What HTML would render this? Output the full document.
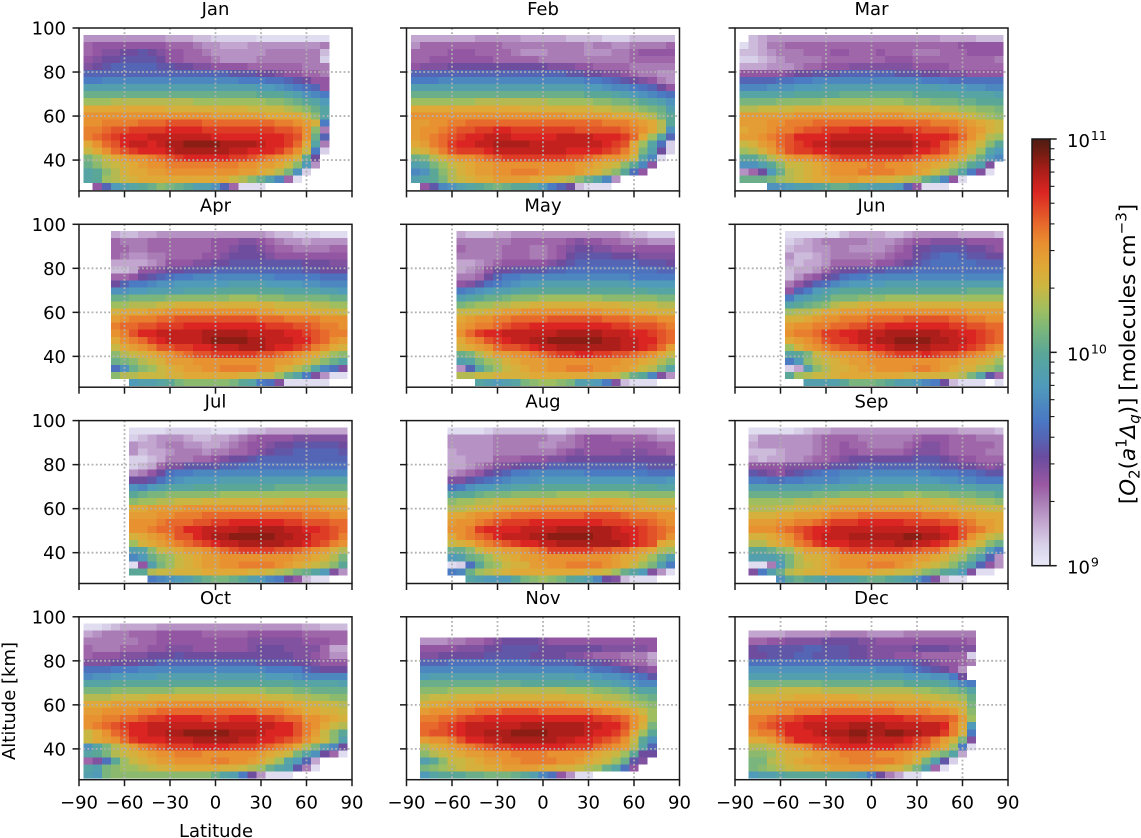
<!DOCTYPE html>
<html lang="en">
<head>
<meta charset="utf-8">
<title>Monthly O2 singlet delta density by latitude and altitude</title>
<style>
html,body{margin:0;padding:0;background:#fff;}
svg{display:block;}
text{font-family:"DejaVu Sans","Liberation Sans",sans-serif;font-size:18px;fill:#000;}
</style>
</head>
<body>
<svg id="figure" xmlns="http://www.w3.org/2000/svg" width="1141" height="838" viewBox="0 0 1141 838">
<text transform="translate(1135,354) rotate(-90)" text-anchor="middle" style="font-size:21.4px">[<tspan font-style="italic">O</tspan><tspan dy="4.5" style="font-size:15px">2</tspan><tspan dy="-4.5">(</tspan><tspan font-style="italic">a</tspan><tspan dy="-8.5" style="font-size:15px">1</tspan><tspan dy="8.5" font-style="italic">Δ</tspan><tspan dy="4.5" font-style="italic" style="font-size:15px">g</tspan><tspan dy="-4.5">)] [molecules cm</tspan><tspan dy="-8.5" style="font-size:15px">−3</tspan><tspan dy="8.5">]</tspan></text>
</svg>
<script>
// Latitude cell centres (degrees) and altitude cell centres (km)
const latCenters = [-84,-78,-72,-66,-60,-54,-48,-42,-36,-30,-24,-18,-12,-6,0,6,12,18,24,30,36,42,48,54,60,66,72,78,84];
const altCenters = [95.3,92.1,88.9,85.7,82.5,79.3,76.1,72.9,69.7,66.5,63.3,60.1,56.9,53.7,50.5,47.3,44.1,40.9,37.7,34.5,31.3,28.1];
const monthNames = ["Jan","Feb","Mar","Apr","May","Jun","Jul","Aug","Sep","Oct","Nov","Dec"];
const xTicks = [-90,-60,-30,0,30,60,90];
const yTicks = [40,60,80,100];
const gridLats = [-60,-30,0,30,60];
const gridAlts = [40,60,80];
const cbarMajor = [1e9,1e10,1e11];
const cbarMinor = [2e9,3e9,4e9,5e9,6e9,7e9,8e9,9e9,2e10,3e10,4e10,5e10,6e10,7e10,8e10,9e10];

// Density per cell, in steps of 0.05 decade above 1e9 molecules/cm3. Rows run top to bottom.
const janLevels = [
[5,5,5,5,5,5,5,5,5,4,4,4,3,3,2,2,2,2,2,1,1,1,1,1,1,1,1],
[7,8,8,8,8,8,8,8,8,7,7,7,6,5,5,4,4,4,5,5,5,5,5,5,5,5,6],
[7,8,9,9,10,10,11,10,9,8,8,7,7,6,5,5,5,5,5,5,6,6,6,6,6,6,3],
[8,9,10,10,11,11,11,11,10,8,8,7,7,7,6,5,5,5,5,6,6,6,6,6,6,6,2],
[9,10,11,12,12,12,12,12,11,11,10,10,9,9,8,8,8,8,7,7,7,7,7,7,6,6,6],
[12,12,12,12,12,12,12,12,12,12,12,12,12,12,12,12,11,11,11,10,10,9,8,8,7,7,6],
[14,14,15,15,15,15,15,15,15,15,15,15,15,15,15,15,15,14,14,14,13,13,12,11,10,8,8],
[18,18,18,18,18,18,18,18,18,18,18,18,18,18,18,18,18,18,18,17,17,16,15,14,13,12,8],
[21,21,21,21,21,21,21,21,21,21,21,21,21,21,21,21,21,21,21,20,20,20,19,18,16,15,14],
[24,24,24,25,25,25,25,25,25,25,25,25,24,24,24,24,24,24,24,24,23,23,22,21,20,19,17],
[28,28,28,28,28,28,28,28,28,27,27,27,27,27,27,27,27,27,26,26,26,26,25,24,23,21,19],
[30,30,30,30,30,30,30,30,30,30,30,30,30,30,29,29,29,29,29,29,28,28,28,28,26,23,19],
[30,30,31,31,31,31,32,32,32,33,33,33,33,32,32,32,32,32,32,32,32,31,31,30,29,27,14],
[31,31,32,33,33,34,34,34,34,35,35,35,35,34,34,34,34,34,34,34,34,33,33,32,30,23,6],
[31,32,33,34,35,35,35,36,36,36,36,36,36,36,35,35,35,35,35,35,35,35,34,33,30,21,12],
[28,30,32,33,35,36,36,35,36,37,37,38,38,38,38,37,37,37,37,36,35,35,34,32,28,19,6],
[26,28,30,32,33,34,35,35,35,36,37,37,37,37,37,37,36,36,35,35,35,34,32,30,26,14,2],
[22,24,26,28,29,30,30,31,32,33,34,35,35,35,35,35,34,34,33,32,31,30,29,27,20,10],
[21,23,25,26,27,28,29,30,30,31,31,31,31,31,31,31,31,30,30,29,29,28,26,23,17,5],
[19,20,23,25,27,28,28,29,29,30,30,30,30,30,30,30,30,29,29,28,27,25,22,16,2],
[19,20,24,25,26,27,28,28,28,28,28,28,28,28,28,28,26,25,23,21,18,15,7,1],
[,8,12,17,18,19,20,21,23,22,21,20,18,18,16,12,7,1,1,1]
];
const febLevels = [
[4,4,4,4,4,4,4,5,5,5,5,5,4,4,4,4,4,3,3,3,3,2,2,2,3,3,3,3,3],
[5,7,7,7,7,7,7,7,7,7,6,6,6,6,6,6,6,6,6,5,6,6,5,5,6,6,6,6,7],
[7,7,7,7,8,8,8,7,7,7,7,6,5,5,5,6,6,6,6,5,5,5,6,6,7,8,8,8,8],
[7,7,8,8,8,8,8,8,8,7,7,7,7,7,6,6,6,6,6,6,6,6,6,6,7,7,7,7,7],
[8,9,9,9,10,10,10,10,10,10,10,10,10,10,10,9,9,9,8,8,7,7,7,7,6,6,6,6,6],
[12,12,12,12,12,12,12,12,12,12,12,12,12,12,12,12,12,11,11,10,10,9,9,8,7,6,6,5,5],
[14,14,14,15,15,15,15,15,15,15,15,15,15,15,15,15,15,15,15,14,14,13,12,11,10,9,8,6,5],
[18,18,18,18,18,18,18,18,18,18,18,18,18,18,18,18,18,18,18,17,17,16,15,15,14,13,12,10,8],
[21,21,21,21,21,21,21,21,21,21,21,21,21,21,21,21,21,21,21,20,20,20,19,18,17,16,15,14,13],
[24,24,24,24,24,24,24,25,25,25,25,25,25,25,25,24,24,24,24,24,23,23,22,22,21,20,19,18,16],
[28,28,28,28,28,28,28,28,28,28,28,28,27,27,27,27,27,27,27,27,26,26,25,25,24,23,22,21,18],
[30,30,30,30,30,30,30,30,30,30,30,30,30,30,30,30,30,29,29,29,29,29,28,28,28,26,25,22,20],
[29,29,30,30,31,31,32,32,32,32,32,32,32,32,32,32,32,32,32,32,32,31,31,31,30,29,28,25,20],
[29,30,30,31,32,33,33,34,34,35,35,34,34,34,34,34,34,34,33,33,33,33,33,32,31,30,28,25,16],
[29,30,31,32,33,34,35,35,36,36,36,35,35,35,35,35,36,36,36,36,35,35,35,34,32,28,24,19,12],
[28,29,31,32,34,35,35,36,36,37,37,37,37,36,36,36,36,36,36,36,36,35,34,33,28,24,19,13,2],
[26,27,29,31,33,34,34,34,35,36,36,36,36,36,36,36,36,35,35,35,35,34,33,31,28,22,18,10,2],
[21,22,25,27,29,30,30,31,32,33,34,34,34,34,34,34,34,33,33,32,31,30,30,29,26,19,15,1],
[18,19,22,24,26,27,28,29,29,30,30,30,30,30,30,30,30,30,29,29,28,27,26,23,20,15,8],
[15,16,20,23,25,27,28,29,29,30,30,31,31,31,30,30,30,30,29,28,27,25,23,20,13,8],
[18,19,20,22,25,26,27,28,28,29,29,29,29,28,28,27,26,25,23,21,19,15,5],
[,8,11,15,16,18,19,20,21,22,21,20,20,19,17,14,12,10,3,1,1,1]
];
const marLevels = [
[,3,4,5,5,5,5,5,5,5,5,5,5,5,5,5,5,5,5,5,5,5,4,4,4,4,3,3,3],
[1,3,4,6,6,7,7,7,7,7,7,7,7,7,7,7,7,7,7,7,7,7,7,7,8,8,8,8,8],
[3,3,4,5,6,6,6,7,7,7,8,8,7,7,7,8,7,7,7,6,6,6,7,7,7,8,8,8,8],
[2,2,3,4,5,6,6,6,6,7,7,7,7,7,7,7,8,8,8,7,7,7,7,7,7,7,7,7,6],
[4,4,4,5,5,5,6,7,7,8,8,8,9,9,9,9,9,9,9,8,8,8,8,7,7,7,7,7,7],
[8,8,8,8,8,9,10,10,11,11,11,12,12,12,12,12,12,11,11,11,10,10,9,9,9,8,8,8,8],
[12,12,12,12,13,13,14,14,15,15,15,15,15,15,15,15,15,15,15,15,14,14,14,13,13,13,13,13,13],
[15,15,15,16,16,16,17,17,17,18,18,18,18,18,18,18,18,18,18,18,18,18,17,17,17,16,16,15,15],
[19,19,19,19,19,19,20,20,20,20,20,21,21,21,21,21,21,21,21,20,20,20,20,20,19,19,19,19,18],
[22,22,22,22,23,23,23,23,23,24,24,24,24,24,24,24,24,24,23,23,23,22,22,22,21,21,20,20,20],
[25,25,26,26,26,26,27,27,27,27,27,27,27,27,27,27,27,27,27,26,26,26,25,25,24,24,23,23,22],
[29,29,29,29,29,29,30,30,30,30,30,30,30,30,30,30,30,30,29,29,29,29,28,28,27,26,25,24,23],
[29,29,29,30,30,31,31,31,32,32,32,32,32,32,32,32,32,32,32,32,32,31,31,31,30,29,28,27,26],
[28,29,29,30,31,31,32,33,33,34,34,34,35,35,35,35,35,35,34,34,33,33,33,32,31,30,29,27,26],
[29,29,30,31,32,33,35,35,35,35,36,36,36,36,36,36,36,36,36,35,35,35,35,34,32,30,28,25,24],
[26,27,29,30,32,33,34,35,36,36,37,37,37,37,37,37,37,37,37,36,36,35,33,32,30,28,26,23,20],
[24,25,27,29,31,33,34,34,35,35,36,36,36,36,36,36,36,36,36,35,35,34,33,31,29,27,24,19,17],
[20,20,22,25,27,29,30,30,31,32,33,34,34,34,34,34,34,34,33,33,31,31,30,29,27,24,21,17,15],
[16,16,18,20,23,26,26,27,28,29,30,30,30,30,31,31,30,30,30,29,29,28,27,25,23,20,18,9],
[5,7,10,17,21,25,26,27,28,29,30,30,30,31,31,31,31,30,30,29,28,26,24,22,19,14,9,1],
[21,21,21,22,24,25,26,27,28,28,29,29,29,28,28,27,27,26,25,24,21,19,15,8,1],
[,,,16,16,17,18,18,19,20,21,21,20,19,18,18,18,17,12,8,1,1,1]
];
const aprLevels = [
[,,,4,3,3,4,4,5,5,5,5,5,5,5,5,5,5,5,5,4,3,3,2,2,2,1,1,1],
[,,,7,6,6,6,7,7,7,7,7,7,7,8,8,8,9,9,8,7,6,5,5,4,5,5,5,5],
[,,,7,7,6,6,7,7,7,7,7,7,7,8,8,9,10,10,9,8,7,7,6,6,6,6,7,7],
[,,,7,6,5,5,6,6,7,7,7,7,8,8,9,10,10,10,10,9,8,8,8,8,8,8,8,8],
[,,,4,4,4,4,5,6,8,8,8,9,9,10,10,11,11,11,11,11,11,11,11,10,10,10,9,9],
[,,,3,3,4,8,8,9,10,10,11,11,11,12,12,12,12,12,12,12,12,12,12,11,11,10,10,10],
[,,,7,7,8,10,11,12,13,14,14,15,15,15,15,15,15,15,15,15,14,14,14,14,14,13,13,13],
[,,,10,12,14,14,15,16,16,17,17,17,17,17,17,18,18,18,18,17,17,17,17,16,16,15,15,15],
[,,,16,16,17,17,18,18,18,18,19,19,19,20,20,20,20,20,20,20,20,19,19,19,19,18,18,17],
[,,,21,21,22,22,22,22,23,23,23,23,23,23,23,24,24,24,23,23,23,22,22,22,22,22,21,21],
[,,,24,24,25,25,25,26,26,27,27,27,27,27,27,27,27,27,27,27,26,26,26,26,25,25,24,24],
[,,,27,28,28,28,29,29,30,30,30,30,30,30,30,30,30,30,29,29,28,28,28,28,27,27,27,26],
[,,,29,30,31,31,31,32,32,33,33,33,33,33,33,33,33,33,32,32,32,31,31,31,31,30,30,30],
[,,,31,32,32,33,33,34,34,34,35,35,35,35,35,35,35,35,35,34,34,34,33,33,32,31,31,30],
[,,,30,31,33,35,35,36,36,36,36,36,37,37,37,37,37,36,36,36,36,35,35,34,33,32,31,31],
[,,,28,30,31,32,34,35,36,36,36,36,37,38,38,38,38,37,37,36,36,36,35,35,33,32,30,29],
[,,,26,28,29,30,31,33,33,34,34,35,35,36,36,36,37,37,37,36,35,35,34,33,31,30,28,27],
[,,,23,25,26,27,28,29,30,31,32,33,33,34,34,34,34,34,33,33,32,31,30,29,28,26,24,23],
[,,,21,22,23,25,26,27,29,29,29,30,30,30,30,30,30,30,30,30,29,29,28,27,25,23,21,19],
[,,,13,16,21,23,24,26,27,28,29,29,30,30,31,31,31,31,30,30,28,27,25,23,19,15,13,9],
[,,,23,25,25,26,26,26,27,27,28,28,28,28,28,28,27,27,26,26,24,21,19,14,9,5,1,1],
[,,,,,17,18,18,19,20,22,23,23,23,23,23,22,20,19,14,13,9,1,1,1,1,1]
];
const mayLevels = [
[,,,,,4,3,3,3,4,4,5,5,5,5,5,5,5,5,5,5,5,5,4,3,3,2,2,2],
[,,,,,6,6,6,6,6,6,7,7,7,7,7,7,8,9,8,8,7,7,6,6,6,5,5,5],
[,,,,,7,6,6,6,6,7,7,7,6,6,7,8,9,10,10,9,9,8,8,8,8,8,8,8],
[,,,,,6,6,6,6,6,7,7,7,6,6,7,8,10,11,11,11,11,10,10,10,9,9,9,9],
[,,,,,4,4,5,6,7,8,8,8,8,8,9,10,11,12,12,12,12,12,12,12,11,11,11,10],
[,,,,,4,5,6,8,10,10,11,11,11,11,12,12,13,13,13,13,13,13,13,13,13,13,12,12],
[,,,,,6,6,7,10,12,14,14,15,15,15,15,15,15,15,15,15,15,15,15,14,14,14,14,14],
[,,,,,8,9,11,13,14,15,16,17,17,18,18,18,18,18,18,18,18,18,18,17,17,17,17,17],
[,,,,,14,15,16,17,18,18,19,20,20,20,20,20,20,20,20,20,20,20,20,20,20,19,19,19],
[,,,,,18,19,20,21,21,22,23,23,23,24,24,24,24,24,24,24,23,23,23,23,23,23,22,22],
[,,,,,22,23,24,24,25,25,26,26,27,27,27,27,27,27,27,27,27,27,26,26,26,26,25,25],
[,,,,,26,26,26,27,28,29,29,30,30,30,30,30,30,30,30,30,29,29,29,28,28,27,27,27],
[,,,,,28,29,30,30,31,31,32,32,32,32,33,33,33,33,33,33,32,32,32,31,31,31,30,30],
[,,,,,29,30,31,31,32,33,34,34,35,35,35,35,35,35,35,35,35,34,34,33,33,33,32,31],
[,,,,,30,32,34,35,35,36,36,36,36,36,36,37,37,37,37,37,36,36,36,35,35,34,33,32],
[,,,,,28,30,31,33,34,35,36,36,37,37,38,38,38,38,38,38,37,37,36,36,35,35,33,32],
[,,,,,27,28,29,30,32,33,33,34,35,36,36,37,37,37,37,37,37,37,36,36,35,34,32,29],
[,,,,,21,22,25,27,29,29,30,30,31,32,33,34,34,35,35,34,34,33,33,32,31,30,28,26],
[,,,,,18,19,22,24,25,27,28,29,29,29,30,30,30,30,30,30,30,30,29,29,28,27,25,23],
[,,,,,5,12,19,22,24,26,27,28,29,29,30,30,31,31,31,30,30,29,29,28,26,25,22,19],
[,,,,,25,25,26,26,27,27,27,27,28,28,28,28,28,28,28,27,27,26,24,21,20,15,9,5],
[,,,,,,,19,18,17,18,19,22,23,24,24,23,22,18,18,17,14,9,3,1,1,1]
];
const junLevels = [
[,,,,,1,1,1,1,1,1,3,4,4,4,4,3,3,4,5,5,5,5,5,4,4,4,4,3],
[,,,,,2,3,4,5,6,6,6,6,6,5,5,5,6,7,8,8,9,9,9,9,8,8,8,8],
[,,,,,3,4,4,5,5,6,6,5,5,5,5,6,7,8,10,10,11,11,11,11,10,10,9,8],
[,,,,,5,3,3,4,5,6,6,6,6,6,6,7,8,8,10,11,12,13,13,12,11,11,10,10],
[,,,,,4,3,4,4,5,7,7,7,7,7,8,8,9,10,11,12,13,13,13,13,13,12,12,12],
[,,,,,3,4,4,5,7,9,10,10,11,11,11,12,12,12,13,13,13,13,13,13,13,13,13,13],
[,,,,,3,5,7,8,10,11,13,14,14,15,15,15,15,15,15,15,15,15,15,15,15,15,15,15],
[,,,,,6,8,10,12,13,15,16,17,17,17,17,18,18,18,18,18,18,18,18,18,18,18,18,18],
[,,,,,8,12,14,17,18,19,20,20,20,20,20,20,20,20,20,20,20,20,20,20,21,21,21,21],
[,,,,,14,17,18,19,20,22,22,22,23,23,23,24,24,24,24,24,24,24,24,24,24,24,24,24],
[,,,,,19,20,21,22,23,25,26,26,27,27,27,27,27,27,27,27,27,27,27,27,27,27,27,27],
[,,,,,24,25,25,26,28,28,29,29,29,30,30,30,30,30,30,30,30,30,30,30,29,29,29,29],
[,,,,,27,27,28,29,30,30,31,31,31,32,32,32,32,33,33,33,33,33,32,32,31,31,30,30],
[,,,,,29,30,30,31,31,32,32,33,33,34,34,35,35,35,35,35,35,35,34,34,33,33,32,32],
[,,,,,30,31,31,32,34,34,35,35,36,36,36,37,37,37,37,37,37,36,36,35,35,34,33,32],
[,,,,,28,29,30,31,33,34,34,35,36,36,37,37,38,38,38,38,37,37,36,36,35,34,33,32],
[,,,,,24,27,29,30,31,32,33,33,34,35,35,36,37,37,37,37,36,36,36,35,34,33,31,30],
[,,,,,19,20,22,26,28,29,29,30,30,31,32,33,34,34,34,35,34,33,33,32,31,30,29,27],
[,,,,,14,17,23,25,26,27,28,29,29,30,30,30,30,30,30,30,30,29,29,28,28,27,26,24],
[,,,,,2,4,18,23,25,27,27,28,29,29,30,30,30,30,31,31,30,29,28,27,27,25,24,22],
[,,,,,20,24,25,26,26,27,28,28,28,28,28,28,28,27,27,27,27,26,26,25,22,19,11,7],
[,,,,,,,18,18,18,18,20,22,22,22,21,20,18,18,17,15,14,10,3,1,1,1,,1]
];
const julLevels = [
[,,,,,1,1,1,1,2,2,2,2,2,1,1,1,2,3,3,4,4,4,4,4,4,4,4,4],
[,,,,,2,3,4,5,5,5,4,3,3,4,4,5,6,7,8,8,8,8,9,9,9,9,9,9],
[,,,,,5,4,4,5,6,6,5,5,4,4,5,6,7,8,8,9,10,10,11,11,11,11,11,10],
[,,,,,5,3,4,4,5,6,6,6,5,6,6,7,7,8,9,10,11,11,12,12,12,12,12,11],
[,,,,,2,2,3,4,6,6,6,7,7,8,9,10,10,11,12,12,12,12,12,12,12,12,12,12],
[,,,,,2,3,4,7,9,9,11,11,11,11,12,12,13,13,13,13,13,13,13,13,13,13,13,13],
[,,,,,5,6,8,10,13,14,14,15,15,15,15,15,15,15,15,15,15,15,15,15,15,15,15,15],
[,,,,,10,10,11,13,15,16,17,17,17,17,18,18,18,18,18,18,18,18,18,18,19,19,19,19],
[,,,,,16,15,17,18,19,19,19,20,20,20,20,20,20,20,20,20,21,21,21,21,21,21,21,21],
[,,,,,20,21,22,22,23,23,23,23,23,23,24,24,24,24,24,24,24,24,24,24,24,24,24,24],
[,,,,,23,24,24,25,25,26,26,26,27,27,27,27,27,27,27,27,27,28,28,28,28,27,27,27],
[,,,,,28,28,29,29,29,29,30,30,30,30,30,30,30,30,30,30,30,30,30,30,30,29,29,29],
[,,,,,29,29,29,30,30,31,31,31,32,32,32,32,32,32,32,32,32,32,32,31,31,31,30,30],
[,,,,,30,30,30,31,32,32,32,33,33,34,34,35,35,35,35,35,35,34,34,33,33,33,32,32],
[,,,,,30,30,31,32,32,33,35,35,36,36,36,36,37,37,37,37,37,36,36,35,35,34,33,32],
[,,,,,27,28,29,30,31,33,33,35,36,37,37,38,38,38,38,38,37,37,36,36,34,34,33,31],
[,,,,,24,27,28,29,30,31,32,33,34,35,36,36,37,37,37,37,37,36,36,35,34,33,31,30],
[,,,,,18,19,23,26,27,28,29,29,30,31,32,33,34,34,34,34,33,33,32,31,30,29,27,25],
[,,,,,15,17,21,23,24,26,27,28,29,29,30,30,30,30,30,30,30,30,29,29,28,27,25,22],
[,,,,,1,8,18,22,24,26,27,28,29,29,30,30,31,31,31,31,30,29,28,27,26,25,23,20],
[,,,,,20,20,25,26,26,27,27,27,28,28,28,28,28,27,27,26,25,24,22,21,19,17,9,5],
[,,,,,,,14,15,16,17,18,20,21,22,22,21,20,18,17,15,14,10,8,3,1,1]
];
const augLevels = [
[,,,,1,1,1,1,2,3,3,3,3,3,3,2,2,3,4,4,4,4,4,4,4,4,4,3,3],
[,,,,5,5,5,5,5,6,6,6,6,6,6,5,5,6,7,8,8,8,7,7,7,7,6,5,5],
[,,,,5,5,5,5,5,6,6,6,6,6,5,5,6,6,7,8,8,8,8,8,8,8,8,7,7],
[,,,,4,5,5,5,5,6,6,6,6,6,6,6,7,8,9,8,8,8,8,9,9,9,8,8,7],
[,,,,4,4,5,5,5,7,7,7,8,8,8,9,9,10,10,10,10,10,10,10,10,10,10,10,10],
[,,,,4,4,5,6,7,9,9,10,11,11,11,12,12,12,12,12,12,12,12,12,12,12,11,11,11],
[,,,,5,6,7,8,10,11,12,14,14,15,15,15,15,15,15,14,14,14,14,14,14,14,13,13,13],
[,,,,9,9,11,12,13,14,15,16,16,16,17,17,17,17,17,17,17,17,17,17,17,16,16,16,17],
[,,,,13,14,16,17,17,18,18,19,19,20,20,20,20,20,20,20,20,20,20,20,20,20,20,19,19],
[,,,,19,20,20,21,22,22,22,23,23,23,23,23,24,24,24,24,24,24,24,24,23,23,23,23,23],
[,,,,23,24,24,25,25,26,26,26,27,27,27,27,27,27,27,27,28,28,28,27,27,27,26,26,26],
[,,,,25,25,26,27,27,28,29,29,29,30,30,30,30,30,30,30,30,30,29,29,29,28,28,28,28],
[,,,,28,28,29,30,30,31,31,32,32,32,32,32,32,32,32,33,33,33,33,32,31,31,31,30,30],
[,,,,29,30,30,31,32,33,34,34,34,35,35,35,35,35,35,35,35,34,34,34,33,33,32,31,30],
[,,,,30,30,31,34,35,35,35,35,36,36,36,36,37,37,37,37,37,37,36,35,35,34,33,32,31],
[,,,,28,30,31,32,33,35,36,36,36,37,37,38,38,38,38,38,37,37,36,36,35,34,33,32,30],
[,,,,26,27,28,30,31,32,33,34,35,35,36,36,37,37,37,37,37,37,37,36,35,34,33,28,27],
[,,,,21,21,23,26,28,28,29,29,30,31,32,34,34,34,34,34,33,33,32,32,30,29,28,25,24],
[,,,,17,18,21,22,24,26,27,28,29,29,30,30,30,30,30,30,30,30,29,28,28,26,24,21,18],
[,,,,1,2,13,20,23,24,26,27,27,29,29,30,30,31,31,31,31,30,29,28,26,24,22,18,14],
[,,,,14,15,21,24,25,26,27,28,28,28,28,28,28,28,28,27,27,26,24,21,19,17,9,5,1],
[,,,,,,19,18,17,17,17,20,22,23,24,23,22,20,19,18,15,10,9,3,1,1,1]
];
const sepLevels = [
[,1,1,1,1,1,2,3,4,4,5,5,5,5,5,5,5,5,5,5,5,5,5,5,4,4,4,4,3],
[,3,5,5,5,5,5,5,6,7,7,7,7,6,6,6,6,6,6,7,8,8,8,7,7,7,6,6,6],
[,4,5,5,5,5,5,5,6,7,7,8,7,7,6,6,6,6,7,8,9,9,8,7,7,7,7,7,6],
[,3,3,3,4,5,5,5,6,7,7,8,8,7,7,7,7,7,8,9,9,9,8,7,7,7,7,6,6],
[,4,3,4,4,5,5,6,7,7,8,9,10,10,10,10,10,10,10,11,11,11,10,9,8,8,7,7,7],
[,8,8,8,8,9,9,9,9,10,11,11,11,12,12,12,12,12,12,12,12,12,11,11,10,10,9,8,9],
[,11,10,9,8,10,11,12,13,14,14,15,15,15,15,15,15,15,15,15,15,14,14,14,13,13,12,11,11],
[,14,14,13,13,14,14,15,15,15,15,16,16,17,17,17,17,17,17,17,17,17,16,16,15,15,14,14,14],
[,18,18,18,18,18,18,18,18,19,19,19,20,20,20,20,20,20,20,20,20,20,20,19,19,19,18,18,18],
[,21,21,21,21,21,21,21,22,22,22,23,23,23,23,23,23,23,24,24,23,23,23,22,22,22,21,21,20],
[,24,24,24,24,24,25,25,25,26,26,27,27,27,27,27,27,27,27,27,27,26,26,26,25,25,24,24,23],
[,25,25,25,26,26,27,27,28,28,29,29,29,29,29,29,29,29,29,29,28,28,28,28,27,27,27,26,26],
[,27,27,27,28,28,29,29,29,30,31,31,31,32,32,32,32,32,32,32,31,31,31,30,29,29,28,28,28],
[,29,29,29,30,30,31,31,32,33,34,34,34,35,35,35,35,35,34,34,34,34,33,33,32,31,29,29,28],
[,30,30,30,31,32,33,34,35,35,36,36,36,36,36,36,36,36,36,36,36,36,35,35,33,32,31,29,28],
[,27,27,28,29,30,32,34,35,36,36,36,37,37,37,37,37,37,38,38,37,37,36,35,33,30,28,26,25],
[,25,25,27,28,29,31,32,34,35,35,35,36,36,36,36,36,37,37,36,36,35,34,32,30,28,26,23,21],
[,20,20,21,23,24,27,29,29,30,31,33,34,34,34,34,34,34,33,33,32,32,30,28,26,24,22,17,14],
[,18,18,18,19,22,25,27,27,28,29,30,30,30,30,30,30,30,30,29,29,28,27,25,24,21,18,12,5],
[,1,1,6,17,22,25,26,27,28,29,30,30,30,31,31,31,30,29,28,27,26,25,23,20,18,12,8,5],
[,9,14,18,21,25,26,27,27,28,28,28,28,28,28,27,27,26,26,25,23,22,20,19,17,9,1,1],
[,,,,16,20,21,20,19,18,18,19,19,20,21,21,20,19,18,16,13,9,3,1,1]
];
const octLevels = [
[1,1,2,3,4,4,4,4,5,5,5,5,5,5,5,5,5,5,5,5,5,5,5,5,4,4,3,3,3],
[4,5,6,6,6,7,7,7,8,8,8,8,8,7,7,7,7,7,8,8,8,8,8,8,7,7,7,7,7],
[6,6,6,6,6,6,7,7,8,8,8,8,8,8,8,8,8,8,9,9,9,9,9,9,8,8,8,7,7],
[7,6,6,6,7,7,7,8,8,9,9,9,8,8,8,8,8,8,9,10,10,10,9,9,9,9,7,4,4],
[7,8,8,8,9,9,9,10,10,10,11,10,10,10,10,10,10,10,10,10,10,10,10,9,9,8,7,5,5],
[9,9,9,10,10,10,11,11,12,12,12,12,12,12,12,12,12,12,12,11,11,11,11,10,10,9,8,8,8],
[13,13,13,14,14,14,15,15,15,15,15,15,15,15,15,15,15,15,15,15,14,14,14,14,12,11,10,10,10],
[15,16,16,17,17,17,17,17,18,18,18,18,18,18,18,18,18,18,18,18,17,17,17,16,15,15,15,15,15],
[19,19,19,20,20,20,20,20,20,20,20,20,20,20,20,20,20,20,20,20,20,20,20,19,19,19,19,19,18],
[22,22,22,23,23,23,23,23,23,23,24,24,24,24,24,24,24,24,24,24,23,23,23,22,22,21,21,21,21],
[25,25,25,26,26,26,26,27,27,27,27,27,27,27,27,27,27,27,27,27,26,26,26,25,25,24,24,23,23],
[28,28,28,29,29,29,29,29,30,30,30,30,30,30,30,30,30,30,29,29,29,29,28,28,27,27,26,26,25],
[29,29,30,30,30,30,31,31,32,32,32,32,32,32,32,32,32,32,32,31,31,31,30,29,28,28,27,27,26],
[30,30,31,31,32,32,33,34,34,35,35,35,35,34,34,34,35,35,35,34,34,33,32,32,30,30,29,28,27],
[30,31,32,33,34,35,35,36,36,36,36,36,36,36,36,36,36,36,36,36,36,35,35,33,31,30,28,26,25],
[26,28,30,32,33,35,35,36,36,37,37,38,38,38,38,38,37,37,37,36,35,35,35,33,31,29,26,23,20],
[26,28,29,30,32,34,35,35,35,36,36,36,37,37,37,37,37,36,36,35,35,34,33,32,30,28,26,23,18],
[16,19,22,25,27,29,31,32,33,34,34,34,35,35,35,35,34,34,34,33,32,31,30,28,25,22,18,15,10],
[19,20,22,25,26,27,28,29,30,30,31,31,31,30,30,30,30,30,30,29,28,27,26,22,19,16,10,7,1],
[7,9,13,20,24,26,27,28,29,29,30,30,30,30,31,31,30,30,29,28,26,24,19,17,12,4],
[19,18,22,23,24,24,25,26,27,27,28,28,28,28,28,27,27,26,25,24,21,19,18,11,6,1],
[18,17,22,23,23,23,23,23,23,23,23,23,23,23,21,19,18,14,10,5,1,1,1]
];
const novLevels = [
[],
[],
[,5,5,5,6,6,7,7,8,9,10,10,10,10,9,8,8,8,8,8,8,8,8,8,8,8,8],
[,8,8,8,8,9,9,9,10,10,11,11,11,11,10,10,10,10,10,10,10,9,9,9,9,9,8],
[,9,9,10,10,10,10,10,11,11,11,11,11,10,10,10,10,9,9,8,7,7,7,6,6,6,4],
[,12,12,12,13,13,13,13,13,13,13,13,13,12,12,12,12,12,11,11,11,10,9,8,7,7,5],
[,15,15,15,15,15,15,15,15,15,15,15,15,15,15,15,15,15,15,14,13,13,12,11,10,9,8],
[,17,18,18,18,18,18,18,18,18,18,18,18,18,18,18,18,18,17,17,17,16,16,15,14,13,11],
[,21,21,21,21,21,21,21,21,21,21,21,20,20,20,20,20,20,20,20,19,19,18,17,16,15,15],
[,23,23,23,24,24,24,24,24,25,25,25,25,25,25,25,25,24,24,24,23,23,22,22,20,19,19],
[,25,26,26,26,27,27,27,27,27,27,27,27,27,27,27,27,27,27,26,26,25,25,24,23,22,21],
[,27,28,28,29,29,29,30,30,30,30,30,30,30,30,30,30,29,29,28,28,28,27,26,25,24,23],
[,29,30,30,30,31,31,32,32,32,33,33,33,33,32,32,32,32,32,32,31,30,30,29,28,26,24],
[,31,31,32,32,33,34,34,35,35,35,35,35,35,35,35,35,35,35,35,34,34,33,32,30,28,24],
[,32,32,33,34,35,36,36,36,36,36,36,37,37,37,37,37,37,37,36,36,35,35,33,30,27,22],
[,32,33,33,34,35,36,36,37,37,37,38,38,38,38,37,37,37,37,36,35,35,34,32,28,24,20],
[,29,30,30,31,33,35,35,36,36,37,37,37,37,37,37,36,36,35,35,34,33,32,30,26,20,16],
[,25,27,28,29,30,31,32,33,34,34,35,35,35,35,35,35,34,34,34,32,31,30,29,25,19,12],
[,23,25,26,27,28,29,29,30,30,30,31,31,31,31,30,30,30,30,29,28,27,26,24,20,10,10],
[,18,20,23,26,26,27,28,29,29,30,30,31,31,31,31,30,30,29,28,27,26,24,21,11,9],
[,22,23,24,25,26,27,27,28,28,29,29,29,29,28,28,27,27,26,25,24,21,19,13,8],
[,17,19,20,20,20,21,21,22,22,22,21,20,18,15,13,8,5,1,1]
];
const decLevels = [
[],
[,4,4,4,4,5,5,5,5,5,6,6,6,6,5,5,5,5,6,6,6,6,6,6,6,6],
[,7,7,8,8,9,9,9,9,10,10,10,10,9,9,8,8,8,8,8,8,8,8,8,8,7],
[,10,11,11,11,11,11,12,12,11,11,11,10,10,9,9,9,9,9,10,10,10,10,9,9,9],
[,10,10,11,11,11,12,12,11,11,11,11,10,10,9,9,9,8,8,8,7,7,7,7,7,2],
[,13,13,13,13,13,13,13,13,13,13,13,12,12,12,12,12,12,12,11,10,9,8,8,7,6],
[,16,16,16,16,16,16,16,16,16,16,16,16,16,16,15,15,15,14,13,12,11,10,8,5],
[,18,18,18,18,18,18,18,18,18,18,18,18,18,18,18,18,18,17,17,17,16,16,14,10],
[,22,22,22,22,22,22,22,22,21,21,21,21,21,21,21,21,21,20,20,20,20,19,17,15,14],
[,25,25,25,26,26,26,26,26,25,25,25,25,25,25,25,25,25,25,24,24,23,23,22,21,19],
[,27,27,27,27,27,28,28,28,28,28,28,28,27,27,27,27,27,27,27,26,26,25,25,24,21],
[,29,29,29,30,30,30,30,30,30,30,30,30,30,30,30,30,29,29,29,29,28,28,27,26,22],
[,29,29,29,30,30,31,31,31,32,32,32,32,32,32,32,32,31,31,31,31,30,30,29,27,23],
[,31,31,32,33,33,34,35,35,35,35,35,35,35,35,35,35,35,34,34,33,33,33,32,29,24],
[,31,32,33,34,35,35,36,36,36,36,36,37,37,37,37,36,36,36,36,36,36,35,31,28,17],
[,30,31,31,33,35,35,35,36,37,37,37,38,38,37,37,38,38,37,37,36,36,34,31,27,14],
[,28,28,29,31,33,35,35,35,35,36,36,37,37,36,36,36,36,35,34,33,31,29,27,22,9],
[,25,25,26,28,29,30,31,33,34,34,35,35,35,35,35,35,34,34,33,32,30,28,24,14,1],
[,23,23,24,26,27,27,28,29,29,30,31,31,31,31,30,30,30,29,28,27,24,22,19,4],
[,22,22,25,26,27,28,29,29,30,30,30,31,31,31,31,31,30,29,27,22,18,11,2],
[,22,23,24,25,26,27,27,28,28,29,29,29,29,29,28,27,27,25,22,18,7,1],
[,17,18,18,19,20,20,20,20,20,19,19,18,17,14,10,6,4,1,1]
];
const levelsByMonth = [janLevels,febLevels,marLevels,aprLevels,mayLevels,junLevels,julLevels,augLevels,sepLevels,octLevels,novLevels,decLevels];

// Colormap: positions on the 0-40 level scale with colours
const cmapLevels = [0,2,4.3,6.4,7.6,10.2,12,13.6,16.8,18.8,20,22.4,24,26.2,28,30.2,32,35,37.2,38.8,40];
const cmapColors = ["#e8eaf8","#d8d0e8","#bfa0cc","#a474b0","#9a58a2","#6a4c9f","#5565b5","#4a78c4","#4f9abb","#55a3a6","#5ba797","#7fb877","#9fbe60","#cdb640","#dfa837","#e88f30","#e76a2c","#db2522","#a61d18","#701d12","#4e1c12"];

const NS = "http://www.w3.org/2000/svg";
const figure = document.getElementById("figure");
const panelLefts = [79,406.5,735];
const panelTops = [28,224.3,420.6,616.8];
const panelW = 273;
const panelH = 162.9;
const INK = "#1a1a1a";
const cellHalfLat = 3;
const cellHalfAlt = 1.6;

function make(tag, attrs, parent){
  const el = document.createElementNS(NS, tag);
  for (const k in attrs) el.setAttribute(k, attrs[k]);
  parent.appendChild(el);
  return el;
}
function hexRgb(h){ return [parseInt(h.slice(1,3),16),parseInt(h.slice(3,5),16),parseInt(h.slice(5,7),16)]; }
function levelColor(level){
  const v = Math.max(0, Math.min(40, level));
  let i = 0;
  while (i < cmapLevels.length-2 && v > cmapLevels[i+1]) i++;
  const t = (v-cmapLevels[i])/(cmapLevels[i+1]-cmapLevels[i]);
  const a = hexRgb(cmapColors[i]), b = hexRgb(cmapColors[i+1]);
  return "rgb("+a.map((c,j)=>Math.round(c+(b[j]-c)*t)).join(",")+")";
}
function xScale(left, lat){ return left + (lat+90)/180*panelW; }
function yScale(top, alt){ return top + (100-alt)/74*panelH; }
function cbarY(value){ return 565.7 - (Math.log10(value)-9)/2*(565.7-139); }

monthNames.forEach(function(month, m){
  const col = m % 3, row = Math.floor(m/3);
  const left = panelLefts[col], top = panelTops[row];
  const slug = month.toLowerCase();
  const g = make("g", {}, figure);
  
  

  const levels = levelsByMonth[m];
  altCenters.forEach(function(alt, r){
    const rowVals = levels[r] || [];
    latCenters.forEach(function(lat, c){
      const level = rowVals[c];
      if (level === undefined) return;
      const x0 = xScale(left, lat-cellHalfLat), x1 = xScale(left, lat+cellHalfLat);
      const y0 = yScale(top, alt+cellHalfAlt), y1 = yScale(top, alt-cellHalfAlt);
      const cell = make("rect", {x:x0, y:y0, width:x1-x0, height:y1-y0, fill:levelColor(level), "shape-rendering":"crispEdges"}, g);
      
      
    });
  });

  gridLats.forEach(function(lat){
    const line = make("line", {x1:xScale(left,lat), x2:xScale(left,lat), y1:top, y2:top+panelH, stroke:"#b0b0b0", "stroke-width":1.8, "stroke-dasharray":"1.8 2.4"}, g);
    
    
  });
  gridAlts.forEach(function(alt){
    const line = make("line", {x1:left, x2:left+panelW, y1:yScale(top,alt), y2:yScale(top,alt), stroke:"#b0b0b0", "stroke-width":1.8, "stroke-dasharray":"1.8 2.4"}, g);
    
    
  });

  const frame = make("rect", {x:left, y:top, width:panelW, height:panelH, fill:"none", stroke:INK, "stroke-width":1.5}, g);
  
  

  const title = make("text", {x:left+panelW/2, y:top-13, "text-anchor":"middle"}, g);
  title.textContent = month;
  
  

  xTicks.forEach(function(t){
    const x = xScale(left, t);
    const tick = make("line", {x1:x, x2:x, y1:top+panelH, y2:top+panelH+6.5, stroke:INK, "stroke-width":1.5}, g);
    
    
    if (row === 3){
      const lab = make("text", {x:x, y:top+panelH+29, "text-anchor":"middle"}, g);
      lab.textContent = String(t).replace("-", "\u2212");
      
      
    }
  });
  yTicks.forEach(function(t){
    const y = yScale(top, t);
    const tick = make("line", {x1:left-6.5, x2:left, y1:y, y2:y, stroke:INK, "stroke-width":1.5}, g);
    
    
    if (col === 0){
      const lab = make("text", {x:left-13, y:y+6.5, "text-anchor":"end"}, g);
      lab.textContent = String(t);
      
      
    }
  });
});

const xTitle = make("text", {x:216, y:837, "text-anchor":"middle"}, figure);
xTitle.textContent = "Latitude";



const yTitle = make("text", {transform:"translate(15,701) rotate(-90)", "text-anchor":"middle"}, figure);
yTitle.textContent = "Altitude [km]";



// Colorbar
const defs = make("defs", {}, figure);
const grad = make("linearGradient", {id:"cbar-gradient", x1:0, y1:1, x2:0, y2:0}, defs);
cmapLevels.forEach(function(l, i){
  make("stop", {offset:l/40, "stop-color":cmapColors[i]}, grad);
});
const cbarG = make("g", {}, figure);


const cbarFill = make("rect", {x:1032, y:139, width:18, height:426.7, fill:"url(#cbar-gradient)"}, cbarG);


const cbarFrame = make("rect", {x:1032, y:139, width:18, height:426.7, fill:"none", stroke:INK, "stroke-width":1.5}, cbarG);


cbarMinor.forEach(function(v){
  const y = cbarY(v);
  const tick = make("line", {x1:1050, x2:1054.5, y1:y, y2:y, stroke:INK, "stroke-width":1.1}, cbarG);
  
  
});
cbarMajor.forEach(function(v){
  const y = cbarY(v);
  const tick = make("line", {x1:1050, x2:1056.7, y1:y, y2:y, stroke:INK, "stroke-width":1.5}, cbarG);
  
  
  const lab = make("text", {x:1067, y:y+8}, cbarG);
  
  
  lab.appendChild(document.createTextNode("10"));
  const sup = make("tspan", {dy:-7, style:"font-size:12.6px", dx:1}, lab);
  sup.textContent = String(Math.round(Math.log10(v)));
});
</script>
</body>
</html>
